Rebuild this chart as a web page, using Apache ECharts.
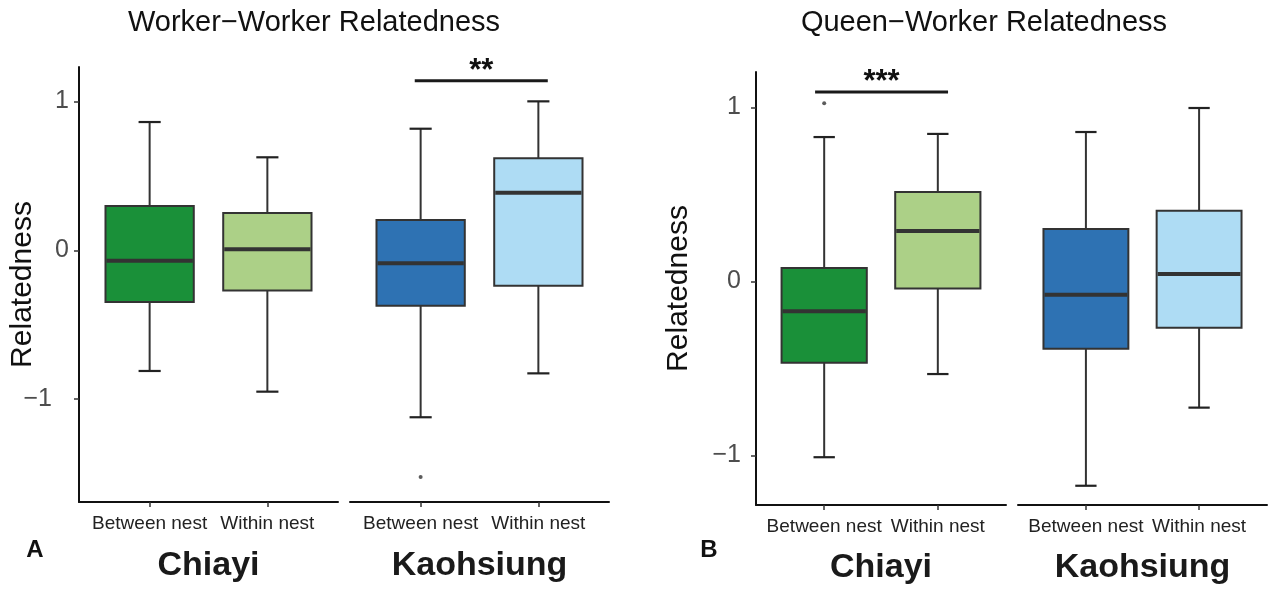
<!DOCTYPE html>
<html><head><meta charset="utf-8">
<script src="https://cdn.jsdelivr.net/npm/echarts@6/dist/echarts.min.js"></script>
<style>html,body{margin:0;padding:0;background:#fff}#c{width:1271px;height:589px}</style>
</head><body><div id="c"></div>
<script>
// ---------- data ----------
const groups = ["Between nest", "Within nest"];
const sites = ["Chiayi", "Kaohsiung"];
const panelTitles = ["Worker\u2212Worker Relatedness", "Queen\u2212Worker Relatedness"];
const panelTags = ["A", "B"];
const yTicks = [-1, 0, 1];
// box stats per group: [lower whisker, Q1, median, Q3, upper whisker]
const wwChiayi = [[-0.811, -0.347, -0.070, 0.298, 0.862], [-0.950, -0.271, 0.007, 0.251, 0.625]];
const wwKaohsiung = [[-1.122, -0.372, -0.087, 0.204, 0.817], [-0.827, -0.238, 0.387, 0.618, 1.001]];
const qwChiayi = [[-1.011, -0.468, -0.172, 0.076, 0.829], [-0.533, -0.042, 0.289, 0.513, 0.847]];
const qwKaohsiung = [[-1.175, -0.387, -0.077, 0.301, 0.858], [-0.726, -0.267, 0.042, 0.406, 0.996]];
// outliers: [group position, value]
const wwChiayiOutliers = [];
const wwKaohsiungOutliers = [[1, -1.524]];
const qwChiayiOutliers = [[1, 1.023]];
const qwKaohsiungOutliers = [];
// significance brackets: [x start, x end, y]
const wwSig = [0.95, 2.08, 1.14];
const wwSigLabel = "**";
const qwSig = [0.92, 2.09, 1.088];
const qwSigLabel = "***";
const fillChiayi = ["#1a9039", "#acd087"];
const fillKaohsiung = ["#2e72b3", "#aedcf4"];

// ---------- layout ----------
const FONT = "'Liberation Sans', Arial, Helvetica, sans-serif";
const panels = [
  { yMin: -1.6915, yMax: 1.2318, top: 67, height: 435, grids: [{ left: 79, width: 259 }, { left: 350, width: 259 }],
    boxes: [wwChiayi, wwKaohsiung], outliers: [wwChiayiOutliers, wwKaohsiungOutliers], sig: wwSig, sigLabel: wwSigLabel, sigFacet: 1,
    nameGap: 41, labelMargin: 10, titleX: 314, tagX: 35, siteY: 566 },
  { yMin: -1.2856, yMax: 1.2029, top: 72, height: 433, grids: [{ left: 756, width: 250 }, { left: 1018, width: 249 }],
    boxes: [qwChiayi, qwKaohsiung], outliers: [qwChiayiOutliers, qwKaohsiungOutliers], sig: qwSig, sigLabel: qwSigLabel, sigFacet: 0,
    nameGap: 62, labelMargin: 15, titleX: 984, tagX: 709, siteY: 568 }
];
const fills = [fillChiayi, fillKaohsiung];

const grid = [], xAxis = [], yAxis = [], series = [], graphic = [];

function boxRender(fillArr) {
  return function (params, api) {
    const x = api.value(0);
    const pLo = api.coord([x, api.value(1)]);
    const pQ1 = api.coord([x, api.value(2)]);
    const pMd = api.coord([x, api.value(3)]);
    const pQ3 = api.coord([x, api.value(4)]);
    const pHi = api.coord([x, api.value(5)]);
    const half = api.size([0.375, 0])[0];
    const capHalf = api.size([0.094, 0])[0];
    const cx = pMd[0];
    const stroke = '#333333';
    return { type: 'group', children: [
      { type: 'line', shape: { x1: cx, y1: pHi[1], x2: cx, y2: pQ3[1] }, style: { stroke, lineWidth: 2 } },
      { type: 'line', shape: { x1: cx, y1: pQ1[1], x2: cx, y2: pLo[1] }, style: { stroke, lineWidth: 2 } },
      { type: 'line', shape: { x1: cx - capHalf, y1: pHi[1], x2: cx + capHalf, y2: pHi[1] }, style: { stroke: '#222', lineWidth: 2.2 } },
      { type: 'line', shape: { x1: cx - capHalf, y1: pLo[1], x2: cx + capHalf, y2: pLo[1] }, style: { stroke: '#222', lineWidth: 2.2 } },
      { type: 'rect', shape: { x: cx - half, y: pQ3[1], width: 2 * half, height: pQ1[1] - pQ3[1] },
        style: { fill: fillArr[params.dataIndex], stroke, lineWidth: 2 } },
      { type: 'line', shape: { x1: cx - half + 1, y1: pMd[1], x2: cx + half - 1, y2: pMd[1] }, style: { stroke, lineWidth: 4 } }
    ] };
  };
}

function sigRender(label) {
  return function (params, api) {
    const p1 = api.coord([api.value(0), api.value(2)]);
    const p2 = api.coord([api.value(1), api.value(2)]);
    return { type: 'group', children: [
      { type: 'line', shape: { x1: p1[0], y1: p1[1], x2: p2[0], y2: p2[1] }, style: { stroke: '#1a1a1a', lineWidth: 3 } },
      { type: 'text', x: (p1[0] + p2[0]) / 2, y: p1[1] + 6,
        style: { text: label, align: 'center', verticalAlign: 'bottom', font: 'bold 31px ' + FONT, fill: '#111' } }
    ] };
  };
}

panels.forEach((P, pi) => {
  P.grids.forEach((g, fi) => {
    const gi = grid.length;
    grid.push({ left: g.left, top: P.top, width: g.width, height: P.height, containLabel: false, outerBoundsMode: 'none' });
    xAxis.push({
      type: 'value', gridIndex: gi, min: 0.4, max: 2.6,
      splitLine: { show: false },
      axisLine: { show: true, onZero: false, lineStyle: { color: '#111', width: 2 } },
      axisTick: { show: true, length: 5, customValues: [1, 2], lineStyle: { color: '#333', width: 1.5 } },
      axisLabel: { show: true, customValues: [1, 2], margin: 12, fontSize: 19, fontFamily: FONT, color: '#222',
        formatter: v => groups[Math.round(v) - 1] }
    });
    yAxis.push({
      type: 'value', gridIndex: gi, min: P.yMin, max: P.yMax,
      show: fi === 0,
      splitLine: { show: false },
      name: fi === 0 ? 'Relatedness' : '', nameLocation: 'middle', nameGap: P.nameGap, nameRotate: 90,
      nameMoveOverlap: false,
      nameTextStyle: { fontSize: 30, fontFamily: FONT, color: '#111' },
      axisLine: { show: fi === 0, onZero: false, lineStyle: { color: '#111', width: 2 } },
      axisTick: { show: fi === 0, length: 5, customValues: yTicks, lineStyle: { color: '#333', width: 1.5 } },
      axisLabel: { show: fi === 0, customValues: yTicks, margin: P.labelMargin, fontSize: 25, fontFamily: FONT, color: '#4d4d4d',
        formatter: v => {
          const s = v < 0 ? '\u2212' + Math.abs(v) : String(v);
          return (pi === 0 && v < 0) ? '{m|' + s + '}' : s;
        },
        rich: { m: { fontSize: 25, fontFamily: FONT, color: '#4d4d4d', padding: [0, 17, 0, 0] } } }
    });
    const stats = P.boxes[fi];
    series.push({
      type: 'custom', xAxisIndex: gi, yAxisIndex: gi,
      renderItem: boxRender(fills[fi]),
      encode: { x: 0, y: [1, 2, 3, 4, 5] },
      data: stats.map((s, i) => [i + 1].concat(s)),
      silent: true, clip: false
    });
    series.push({
      type: 'scatter', xAxisIndex: gi, yAxisIndex: gi, symbol: 'circle', symbolSize: 4,
      itemStyle: { color: '#333' }, data: P.outliers[fi], silent: true
    });
    if (fi === P.sigFacet) {
      series.push({
        type: 'custom', xAxisIndex: gi, yAxisIndex: gi, renderItem: sigRender(P.sigLabel),
        encode: { x: [0, 1], y: 2 }, data: [P.sig], silent: true, clip: false
      });
    }
    graphic.push({ type: 'text', x: g.left + g.width / 2, y: P.siteY,
      style: { text: sites[fi], align: 'center', verticalAlign: 'middle', font: 'bold 34px ' + FONT, fill: '#1a1a1a' } });
  });
  graphic.push({ type: 'text', x: P.titleX, y: 23,
    style: { text: panelTitles[pi], align: 'center', verticalAlign: 'middle', font: '29px ' + FONT, fill: '#111' } });
  graphic.push({ type: 'text', x: P.tagX, y: 550,
    style: { text: panelTags[pi], align: 'center', verticalAlign: 'middle', font: 'bold 24px ' + FONT, fill: '#111' } });
});

const chart = echarts.init(document.getElementById('c'), null, { renderer: 'canvas' });
chart.setOption({ animation: false, backgroundColor: '#fff', grid, xAxis, yAxis, series, graphic });
</script>
</body></html>
